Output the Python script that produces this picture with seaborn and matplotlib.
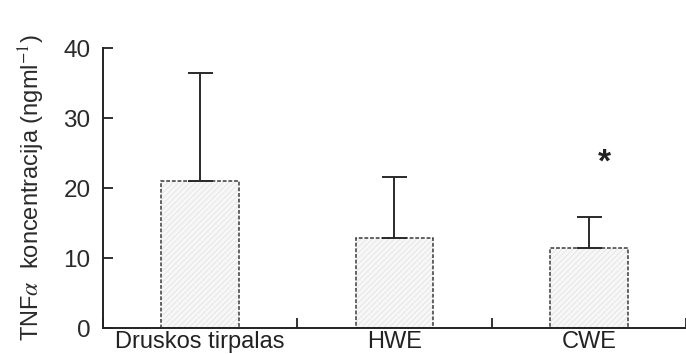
import numpy as np
import matplotlib
matplotlib.use("Agg")
import matplotlib.pyplot as plt
import seaborn as sns

categories = ["Druskos tirpalas", "HWE", "CWE"]
means = [21.0, 12.9, 11.5]
err_upper = [15.5, 8.7, 4.4]
y_ticks = [0, 10, 20, 30, 40]
star_label = "*"
star_value = 23.6

sns.set_theme(style="ticks")
plt.rcParams["font.family"] = ["Liberation Sans", "DejaVu Sans"]
plt.rcParams["mathtext.fontset"] = "stix"
plt.rcParams["hatch.linewidth"] = 0.5

fig = plt.figure(figsize=(6.86, 3.54), dpi=100)
ax = fig.add_axes([0.150, 0.0734, 0.850, 0.7910])

# fill with a faint diagonal hatch
sns.barplot(x=categories, y=means, ax=ax, color="#f7f7f7", width=0.4,
            edgecolor="#e0e0e0", linewidth=0, hatch="//////", saturation=1)
# dashed outline drawn on top
sns.barplot(x=categories, y=means, ax=ax, fill=False, width=0.4,
            edgecolor="#3a3a3a", linewidth=1.1, linestyle=(0, (2.5, 1.2)))

pos = np.arange(len(categories))
ax.errorbar(pos, means, yerr=[np.zeros(len(means)), err_upper], fmt="none",
            ecolor="#2a2a2a", elinewidth=1.4, capsize=9, capthick=1.4, zorder=1)

ax.text(pos[-1] + 0.08, star_value, star_label, ha="center", va="center",
        fontsize=24, fontweight="bold", color="#222222")

ax.set_xlim(-0.5, 2.5)
ax.set_ylim(0, 40)
ax.set_yticks(y_ticks)
ax.set_yticklabels([str(t) for t in y_ticks], fontsize=17.5, color="#2a2a2a")
ax.tick_params(axis="y", direction="in", length=7, width=1.3, pad=9,
               color="#222222")
ax.tick_params(axis="x", which="major", length=0, pad=2, labelsize=17,
               labelcolor="#222222")
ax.set_xticks(np.arange(-0.5, 2.6, 1.0), minor=True)
ax.tick_params(axis="x", which="minor", direction="in", length=7, width=1.3,
               color="#222222")

ax.set_ylabel(r"TNF$\alpha$  koncentracija (ngml$^{-1}$)", fontsize=17,
              color="#2a2a2a", labelpad=12)

sns.despine(ax=ax)
for s in ("left", "bottom"):
    ax.spines[s].set_linewidth(1.4)
    ax.spines[s].set_color("#222222")

fig.savefig("out.png", dpi=100)
